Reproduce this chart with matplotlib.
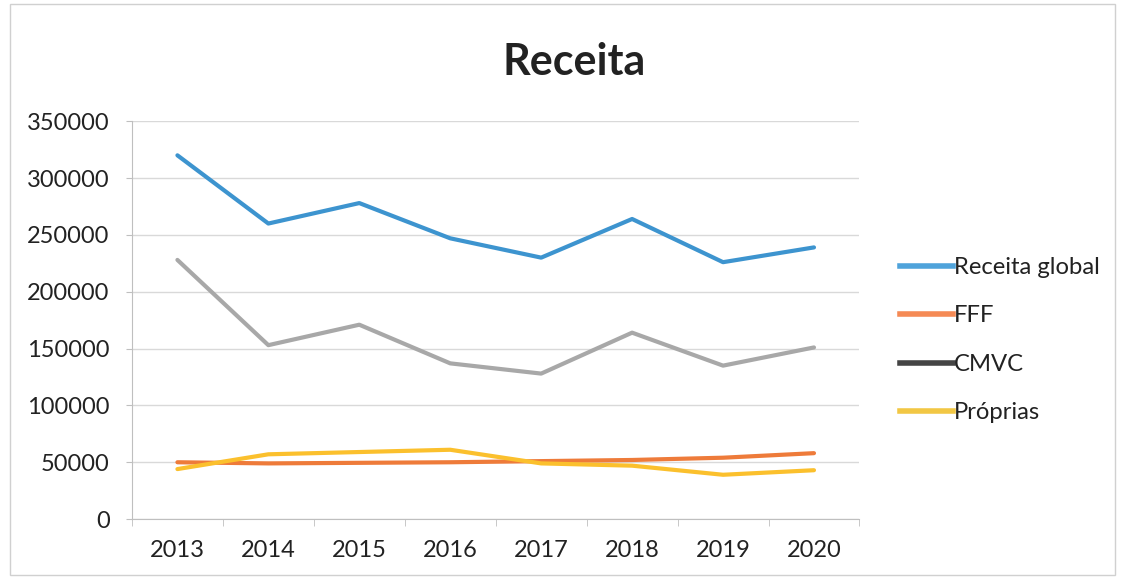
import matplotlib
matplotlib.use('Agg')

import numpy as np
import matplotlib.pyplot as plt
from matplotlib.lines import Line2D
from matplotlib.patches import Rectangle

# dados
anos = ['2013', '2014', '2015', '2016', '2017', '2018', '2019', '2020']
receita_global = [320000, 260000, 278000, 247000, 230000, 264000, 226000, 239000]
fff = [50000, 49000, 49500, 50000, 51000, 52000, 54000, 58000]
cmvc = [228000, 153000, 171000, 137000, 128000, 164000, 135000, 151000]
proprias = [44000, 57000, 59000, 61000, 49000, 47000, 39000, 43000]

plt.rcParams['font.family'] = ['Lato', 'DejaVu Sans']

fig = plt.figure(figsize=(11.22, 5.8), dpi=100)
ax = fig.add_axes([0.1176, 0.105, 0.6484, 0.686])

x = np.arange(len(anos))
ax.plot(x, receita_global, color='#3D94CF', lw=3, solid_capstyle='round')
ax.plot(x, fff, color='#EE7B3A', lw=3, solid_capstyle='round')
ax.plot(x, cmvc, color='#A8A8A8', lw=3, solid_capstyle='round')
ax.plot(x, proprias, color='#FBC02D', lw=3, solid_capstyle='round')

ax.set_xlim(-0.5, len(anos) - 0.5)
ax.set_ylim(0, 350000)
ax.set_yticks(np.arange(0, 350001, 50000))
ax.set_xticks(x)
ax.set_xticklabels(anos)
ax.set_xticks(np.arange(-0.5, len(anos), 1), minor=True)

ax.grid(axis='y', color='#D9D9D9', lw=1)
ax.set_axisbelow(True)
for s in ['top', 'right']:
    ax.spines[s].set_visible(False)
ax.spines['left'].set_color('#BFBFBF')
ax.spines['bottom'].set_color('#BFBFBF')

ax.tick_params(axis='y', labelsize=17, colors='#BFBFBF', labelcolor='#222222',
               length=4, pad=12)
ax.tick_params(axis='x', which='major', labelsize=17, labelcolor='#222222',
               length=0, pad=15)
ax.tick_params(axis='x', which='minor', length=5, color='#BFBFBF')

fig.text(0.512, 0.893, 'Receita', ha='center', va='center',
         fontsize=31, fontweight='bold', color='#222222')

handles = [
    Line2D([], [], color='#4FA3DB', lw=4),
    Line2D([], [], color='#F58A55', lw=4),
    Line2D([], [], color='#444444', lw=4),
    Line2D([], [], color='#F2C744', lw=4),
]
labels = ['Receita global', 'FFF', 'CMVC', 'Próprias']
fig.legend(handles, labels, loc='upper left', bbox_to_anchor=(0.783, 0.594),
           frameon=False, fontsize=17.2, handlelength=2.2, handletextpad=0.05,
           labelspacing=1.15, labelcolor='#222222')

# moldura do gráfico
fig.add_artist(Rectangle((0.009, 0.008), 0.985, 0.985, transform=fig.transFigure,
                         fill=False, edgecolor='#D0D0D0', lw=1))

fig.savefig('out.png', dpi=100)
